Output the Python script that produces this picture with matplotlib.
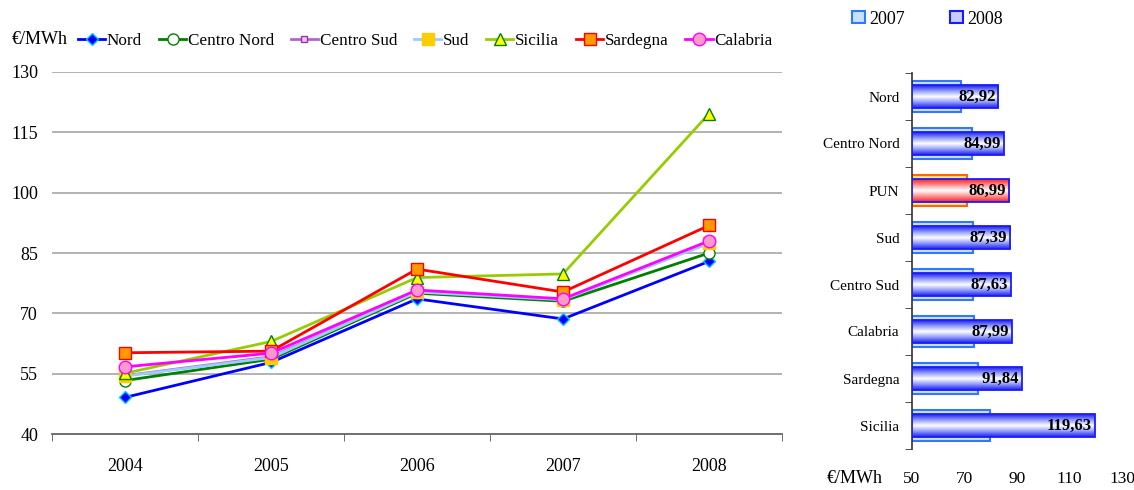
import numpy as np
import matplotlib
matplotlib.use("Agg")
import matplotlib.pyplot as plt
from matplotlib.colors import LinearSegmentedColormap

plt.rcParams['font.family'] = ['Liberation Serif', 'DejaVu Serif']
plt.rcParams['font.size'] = 13

# --- zonal prices by year (EUR/MWh) ---
years = ["2004", "2005", "2006", "2007", "2008"]
nord = [49.1, 57.8, 73.6, 68.6, 82.92]
centro_nord = [53.3, 58.6, 75.0, 73.0, 84.99]
centro_sud = [54.5, 59.2, 75.4, 73.4, 87.63]
sud = [54.4, 59.0, 75.3, 73.4, 87.39]
sicilia = [55.1, 63.0, 78.9, 79.8, 119.63]
sardegna = [60.2, 60.6, 81.0, 75.3, 91.84]
calabria = [56.7, 60.1, 75.8, 73.6, 87.99]

# --- 2007 vs 2008 comparison, sorted by 2008 price ---
bar_zones = ["Nord", "Centro Nord", "PUN", "Sud", "Centro Sud", "Calabria", "Sardegna", "Sicilia"]
bar_2007 = [68.6, 73.0, 70.99, 73.4, 73.4, 73.6, 75.3, 79.8]
bar_2008 = [82.92, 84.99, 86.99, 87.39, 87.63, 87.99, 91.84, 119.63]
bar_labels = ["82,92", "84,99", "86,99", "87,39", "87,63", "87,99", "91,84", "119,63"]

W, H = 1134, 490
fig = plt.figure(figsize=(W / 100, H / 100), dpi=100)

# ---------------- line chart ----------------
ax = fig.add_axes([52 / W, (H - 434) / H, (782 - 52) / W, (434 - 72) / H])
series = [
    ("Nord", nord, dict(color="#0000FF", marker="D", mfc="#0000FF", mec="#00CCFF", ms=6)),
    ("Centro Nord", centro_nord, dict(color="#008000", marker="o", mfc="white", mec="#008000", ms=8)),
    ("Centro Sud", centro_sud, dict(color="#B266CC", marker="s", mfc="#F0C8F0", mec="#9933AA", ms=5)),
    ("Sud", sud, dict(color="#99CCFF", marker="s", mfc="#FFCC00", mec="#FFCC00", ms=8)),
    ("Sicilia", sicilia, dict(color="#99CC00", marker="^", mfc="#FFFF00", mec="#008000", ms=9)),
    ("Sardegna", sardegna, dict(color="#FF0000", marker="s", mfc="#FF9900", mec="#FF0000", ms=9)),
    ("Calabria", calabria, dict(color="#FF00FF", marker="o", mfc="#FF99CC", mec="#FF00FF", ms=9)),
]
xs = np.arange(len(years))
handles = []
for name, vals, st in series:
    ln, = ax.plot(xs, vals, lw=2, label=name, zorder=3, **st)
    handles.append(ln)

ax.set_ylim(40, 130)
ax.set_yticks([40, 55, 70, 85, 100, 115, 130])
ax.set_xlim(-0.5, len(years) - 0.5)
ax.set_xticks(xs)
ax.set_xticklabels(years)
ax.set_xticks(np.arange(-0.5, len(years)), minor=True)
ax.tick_params(axis='x', which='major', length=0, pad=17, labelsize=13)
ax.tick_params(axis='x', which='minor', length=5, direction='out', color='#555555')
ax.tick_params(axis='y', length=0, pad=10, labelsize=13)
for gy in [55, 70, 85, 100, 115, 130]:
    ax.axhline(gy, color='#A6A6A6', lw=1.2, zorder=1)
for s in ['top', 'right', 'left']:
    ax.spines[s].set_visible(False)
ax.spines['bottom'].set_color('#555555')
ax.spines['bottom'].set_linewidth(1.2)

fig.text(12 / W, 1 - 40 / H, "€/MWh", ha='left', va='center', fontsize=13)
fig.legend(handles=handles, loc='center left', bbox_to_anchor=(78 / W, 1 - 41 / H),
           ncol=7, frameon=False, handlelength=1.6, handletextpad=0.08,
           columnspacing=1.0, fontsize=12.3, borderaxespad=0, borderpad=0)

# ---------------- bar chart ----------------
bx = fig.add_axes([912 / W, (H - 449) / H, (1122 - 912) / W, (449 - 73) / H])
ypos = np.arange(len(bar_zones))
is_pun = np.array([z == "PUN" for z in bar_zones])

fill07 = np.where(is_pun, "#FFE08A", "#C6E2FF")
edge07 = np.where(is_pun, "#FF6600", "#3377FF")
b07 = bx.barh(ypos, np.array(bar_2007) - 50, left=50, height=0.68,
              color=fill07, edgecolor=edge07, linewidth=1.5, zorder=2)
b08 = bx.barh(ypos, np.array(bar_2008) - 50, left=50, height=0.47,
              facecolor='none', edgecolor="#1A1AFF", linewidth=1.3, zorder=4)

blue_cmap = LinearSegmentedColormap.from_list("bl", ["#2020E8", "#8F9BFF", "#FFFFFF", "#8F9BFF", "#2020E8"])
red_cmap = LinearSegmentedColormap.from_list("rd", ["#FF2020", "#FF9090", "#FFFFFF", "#FF9090", "#FF2020"])
grad = np.linspace(0, 1, 64).reshape(-1, 1)
for rect, pun in zip(b08, is_pun):
    x0, y0 = rect.get_x(), rect.get_y()
    x1, y1 = x0 + rect.get_width(), y0 + rect.get_height()
    bx.imshow(grad, extent=[x0, x1, y1, y0], cmap=red_cmap if pun else blue_cmap,
              aspect='auto', interpolation='bilinear', zorder=3)

for rect, lab in zip(b08, bar_labels):
    bx.annotate(lab, (rect.get_x() + rect.get_width(), rect.get_y() + rect.get_height() / 2),
                xytext=(-2, 0), textcoords='offset points', ha='right', va='center',
                fontsize=12, fontweight='bold', zorder=5)

bx.set_xlim(50, 130)
bx.set_xticks([50, 70, 90, 110, 130])
bx.set_ylim(len(bar_zones) - 0.5, -0.5)
bx.set_yticks(ypos)
bx.set_yticklabels(bar_zones)
bx.set_yticks(np.arange(-0.5, len(bar_zones)), minor=True)
bx.tick_params(axis='y', which='major', length=0, pad=9, labelsize=11)
bx.tick_params(axis='y', which='minor', length=5, direction='out', color='#333333')
bx.tick_params(axis='x', length=0, pad=16, labelsize=12.5)
for s in ['top', 'right', 'bottom']:
    bx.spines[s].set_visible(False)
bx.spines['left'].set_color('#333333')
bx.spines['left'].set_linewidth(1.2)
fig.text(855 / W, 1 - 478 / H, "€/MWh", ha='center', va='center', fontsize=13)

leg_handles = [
    plt.Rectangle((0, 0), 1, 1, facecolor="#C6E2FF", edgecolor="#3377FF", lw=1.5),
    plt.Rectangle((0, 0), 1, 1, facecolor="#C8CCFF", edgecolor="#1A1AFF", lw=1.5),
]
fig.legend(handles=leg_handles, labels=["2007", "2008"], loc='center left',
           bbox_to_anchor=(852 / W, 1 - 19 / H), ncol=2, frameon=False,
           handlelength=0.7, handleheight=0.7, handletextpad=0.25, columnspacing=2.5,
           fontsize=13, borderaxespad=0, borderpad=0)

fig.savefig("out.png", dpi=100)
